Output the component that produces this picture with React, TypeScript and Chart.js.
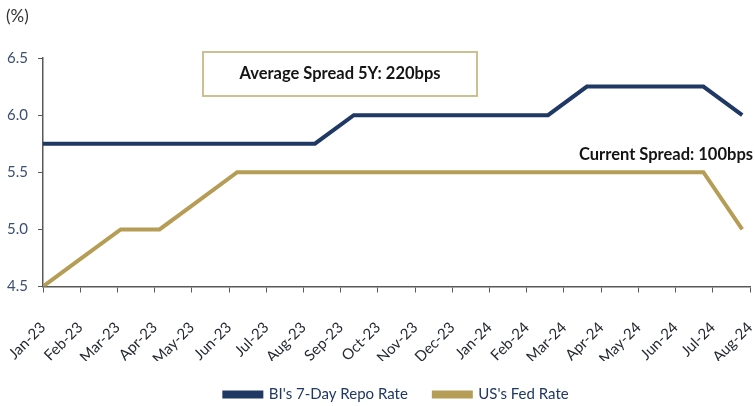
import React, { useEffect, useRef } from "react";
import { Chart, registerables } from "chart.js";
Chart.register(...registerables);

const categories = [
  "Jan-23", "Feb-23", "Mar-23", "Apr-23", "May-23", "Jun-23", "Jul-23",
  "Aug-23", "Sep-23", "Oct-23", "Nov-23", "Dec-23", "Jan-24", "Feb-24",
  "Mar-24", "Apr-24", "May-24", "Jun-24", "Jul-24", "Aug-24",
];

// monthly observations (19 points)
const biRate = [
  5.75, 5.75, 5.75, 5.75, 5.75, 5.75, 5.75, 5.75,
  6.0, 6.0, 6.0, 6.0, 6.0, 6.0,
  6.25, 6.25, 6.25, 6.25,
  6.0,
];
const fedRate = [
  4.5, 4.75, 5.0, 5.0, 5.25, 5.5,
  5.5, 5.5, 5.5, 5.5, 5.5, 5.5, 5.5, 5.5, 5.5, 5.5, 5.5, 5.5,
  5.0,
];

const seriesNames = ["BI's 7-Day Repo Rate", "US's Fed Rate"];
const yMin = 4.5;
const yMax = 6.5;
const yStep = 0.5;

const unitLabel = "(%)";
const avgSpreadLabel = "Average Spread 5Y: 220bps";
const curSpreadLabel = "Current Spread: 100bps";

const NAVY = "#1f3864";
const GOLD = "#b59d56";
const FONT = "Lato, 'Open Sans', sans-serif";

const annotationPlugin = {
  id: "annotations",
  afterDraw(chart: any) {
    const ctx = chart.ctx;
    ctx.save();
    // unit label
    ctx.fillStyle = "#333333";
    ctx.font = `17px ${FONT}`;
    ctx.textAlign = "left";
    ctx.textBaseline = "middle";
    ctx.fillText(unitLabel, 6, 17);
    // average spread box
    ctx.strokeStyle = "#cdbf92";
    ctx.lineWidth = 2;
    ctx.fillStyle = "#ffffff";
    ctx.fillRect(203, 52, 274, 44);
    ctx.strokeRect(203, 52, 274, 44);
    ctx.fillStyle = "#141414";
    ctx.font = `bold 16.5px ${FONT}`;
    ctx.textAlign = "center";
    ctx.fillText(avgSpreadLabel, 340, 74);
    // current spread
    ctx.textAlign = "right";
    ctx.fillText(curSpreadLabel, 753, 155);
    ctx.restore();
  },
};

export default function App() {
  const ref = useRef<HTMLCanvasElement>(null);
  useEffect(() => {
    document.body.style.margin = "0";
    const toPts = (arr: number[]) => arr.map((v, i) => ({ x: i, y: v }));
    const chart = new Chart(ref.current!, {
      type: "line",
      data: {
        labels: categories,
        datasets: [
          {
            label: seriesNames[0],
            data: toPts(biRate),
            xAxisID: "x2",
            borderColor: NAVY,
            backgroundColor: NAVY,
            borderWidth: 4,
            pointRadius: 0,
            tension: 0,
          },
          {
            label: seriesNames[1],
            data: toPts(fedRate),
            xAxisID: "x2",
            borderColor: GOLD,
            backgroundColor: GOLD,
            borderWidth: 4,
            pointRadius: 0,
            tension: 0,
          },
        ],
      },
      options: {
        responsive: false,
        animation: false,
        layout: { padding: { top: 58, right: 5, left: 0, bottom: -6 } },
        plugins: {
          legend: {
            position: "bottom",
            fullSize: false,
            labels: {
              boxWidth: 37,
              boxHeight: 4,
              padding: 26,
              color: NAVY,
              font: { family: FONT, size: 15 },
            },
          },
          tooltip: { enabled: false },
        },
        scales: {
          x: {
            type: "category",
            offset: false,
            grid: {
              display: true,
              drawOnChartArea: false,
              drawTicks: true,
              tickLength: 6,
              color: "#595959",
            },
            border: { display: true, color: "#595959", width: 1.5 },
            ticks: {
              autoSkip: false,
              maxRotation: 45,
              minRotation: 45,
              padding: 26,
              color: "#262b33",
              font: { family: FONT, size: 15 },
            },
            afterFit: (s: any) => {
              s.height = 74.5;
              s.paddingLeft = 0;
              s.paddingRight = 0;
            },
          },
          x2: {
            type: "linear",
            display: false,
            min: 0,
            max: 18.2,
          },
          y: {
            min: yMin,
            max: yMax,
            grid: {
              display: true,
              drawOnChartArea: false,
              drawTicks: true,
              tickLength: 5,
              color: "#595959",
            },
            border: { display: true, color: "#595959", width: 1.5 },
            ticks: {
              stepSize: yStep,
              padding: 10,
              color: "#3b4f72",
              font: { family: FONT, size: 15 },
              callback: (v: any) => Number(v).toFixed(1),
            },
            afterFit: (s: any) => {
              s.width = 43;
            },
          },
        },
      },
      plugins: [annotationPlugin],
    });
    return () => chart.destroy();
  }, []);
  return (
    <div style={{ width: 755, height: 406 }}>
      <canvas ref={ref} width={755} height={406} />
    </div>
  );
}
